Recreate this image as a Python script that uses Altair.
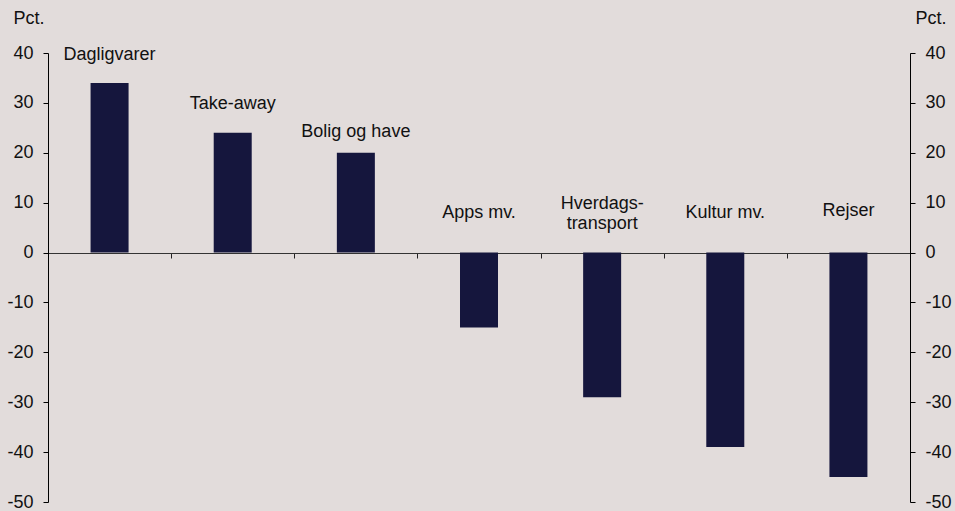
import altair as alt
import pandas as pd

categories = ["Dagligvarer", "Take-away", "Bolig og have", "Apps mv.",
              "Hverdagstransport", "Kultur mv.", "Rejser"]
values = [34, 24, 20, -15, -29, -39, -45]
labels = ["Dagligvarer", "Take-away", "Bolig og have", "Apps mv.",
          "Hverdags-\ntransport", "Kultur mv.", "Rejser"]
label_y = [39.5, 29.8, 24.1, 8.0, 9.8, 8.0, 8.4]
y_ticks = [-50, -40, -30, -20, -10, 0, 10, 20, 30, 40]

df = pd.DataFrame({"cat": categories, "val": values, "label": labels, "ly": label_y})

FONT = "Liberation Sans"
FS = 18
BG = "#E2DCDB"
BAR = "#15163D"

W, H = 862, 449
yscale = alt.Scale(domain=[-50, 40], nice=False, zero=False)
xscale = alt.Scale(domain=categories, paddingInner=0, paddingOuter=0)
xaxis = alt.Axis(orient="bottom", offset=-249, labels=False, title=None,
                 tickBand="extent", ticks=True, tickSize=5, tickColor="#222222",
                 tickWidth=1, domainColor="#333333", domainWidth=1.2, grid=False)

def yaxis(orient, tx):
    return alt.Axis(orient=orient, values=y_ticks, grid=False, tickSize=5,
                    tickColor="#000000", domainColor="#000000", labelPadding=10,
                    labelExpr="'' + datum.value",
                    title="Pct.", titleAngle=0, titleAlign="left", titleBaseline="alphabetic",
                    titleX=tx, titleY=-30, titleFontWeight="normal")

base = alt.Chart(df)
X = alt.X("cat:N", scale=xscale, sort=categories, axis=xaxis)

bars = base.mark_bar(size=38, color=BAR).encode(
    x=X,
    y=alt.Y("val:Q", scale=yscale, axis=yaxis("left", -35)),
)

right_axis = base.mark_bar(opacity=0).encode(
    x=X,
    y=alt.Y("val:Q", scale=yscale, axis=yaxis("right", 5)),
)

text = base.mark_text(font=FONT, fontSize=FS, color="#111111", lineBreak="\n",
                      baseline="middle", lineHeight=20).encode(
    x=X,
    y=alt.Y("ly:Q", scale=yscale, axis=None),
    text="label:N",
)

chart = alt.layer(bars, right_axis, text).resolve_scale(y="independent").properties(
    width=W, height=H,
    background=BG,
    padding={"left": 48, "top": 53, "right": 45, "bottom": 9},
    autosize=alt.AutoSizeParams(type="none"),
).configure_view(stroke=None, fill=BG).configure_axis(
    labelFont=FONT, labelFontSize=FS, labelColor="#111111",
    titleFont=FONT, titleFontSize=FS, titleColor="#111111",
)

chart.save("out.html", embed_options={"renderer": "svg", "actions": False})
